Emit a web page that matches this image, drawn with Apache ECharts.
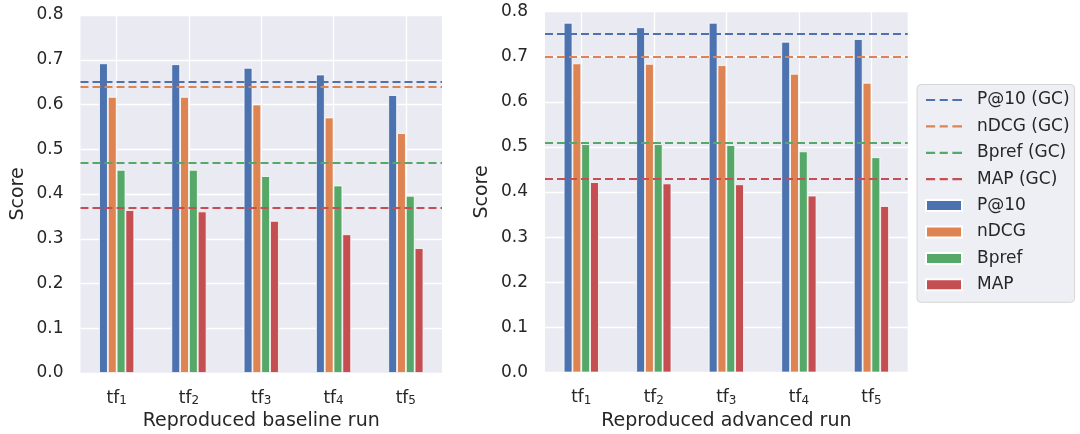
<!DOCTYPE html>
<html>
<head>
<meta charset="utf-8">
<title>Reproduced runs</title>
<script src="https://cdn.jsdelivr.net/npm/echarts@6/dist/echarts.min.js"></script>
<style>
    html, body { margin: 0; padding: 0; background: #fff; }
    #chart_runs { width: 1080px; height: 434px; }
</style>
</head>
<body>
<div id="chart_runs"></div>
<script>

// Data
// ------------------------------

var categories = ['tf_1', 'tf_2', 'tf_3', 'tf_4', 'tf_5'];
var yTicks = [0.0, 0.1, 0.2, 0.3, 0.4, 0.5, 0.6, 0.7, 0.8];

var metricNames = ['P@10', 'nDCG', 'Bpref', 'MAP'];
var gcNames = ['P@10 (GC)', 'nDCG (GC)', 'Bpref (GC)', 'MAP (GC)'];

// reproduced baseline run
var baselineP10 = [0.692, 0.690, 0.682, 0.667, 0.621];
var baselineNDCG = [0.617, 0.617, 0.600, 0.571, 0.536];
var baselineBpref = [0.454, 0.454, 0.440, 0.419, 0.396];
var baselineMAP = [0.364, 0.361, 0.340, 0.310, 0.279];
var baselineGC = [0.647, 0.638, 0.465, 0.372];

// reproduced advanced run
var advancedP10 = [0.775, 0.765, 0.775, 0.733, 0.739];
var advancedNDCG = [0.685, 0.684, 0.681, 0.662, 0.642];
var advancedBpref = [0.506, 0.506, 0.504, 0.490, 0.477];
var advancedMAP = [0.422, 0.419, 0.417, 0.392, 0.369];
var advancedGC = [0.751, 0.696, 0.512, 0.428];


// Setup module
// ------------------------------

var RunsChart = function() {

    var colors = ['#4C72B0', '#DD8452', '#55A868', '#C44E52'];
    var textColor = '#262626';
    var font = 'DejaVu Sans';
    var dash = [8, 4];

    // three short dashes, used as legend icon for the GC lines
    var dashIcon = 'path://M0,0h9v2.2h-9z M13.5,0h8v2.2h-8z M26,0h9.5v2.2h-9.5z';

    var _grid = function(left, top, width, height) {
        return {
            left: left, top: top, width: width, height: height,
            show: true,
            backgroundColor: '#EAEAF2',
            borderWidth: 0,
            containLabel: false,
            outerBoundsMode: 'none'
        };
    };

    var _xAxis = function(idx, name) {
        return {
            type: 'category',
            gridIndex: idx,
            data: categories,
            name: name,
            nameLocation: 'middle',
            nameGap: 39,
            nameTextStyle: { fontFamily: font, fontSize: 19, color: textColor },
            axisLine: { show: false },
            axisTick: { show: false, alignWithLabel: true, interval: 0 },
            splitLine: { show: true, alignWithLabel: true, interval: 0, lineStyle: { color: '#fff', width: 1.3 } },
            axisLabel: {
                interval: 0,
                margin: 12,
                formatter: function(v) {
                    var p = v.split('_');
                    return '{a|' + p[0] + '}{s|' + p[1] + '}';
                },
                rich: {
                    a: { fontFamily: font, fontSize: 17, color: textColor, lineHeight: 22, verticalAlign: 'bottom' },
                    s: { fontFamily: font, fontSize: 12, color: textColor, lineHeight: 12, verticalAlign: 'bottom' }
                }
            }
        };
    };

    var _yAxis = function(idx) {
        return {
            type: 'value',
            gridIndex: idx,
            min: yTicks[0],
            max: yTicks[yTicks.length - 1],
            interval: 0.1,
            name: 'Score',
            nameLocation: 'middle',
            nameRotate: 90,
            nameGap: 53,
            nameTextStyle: { fontFamily: font, fontSize: 19, color: textColor },
            axisLine: { show: false },
            axisTick: { show: false },
            splitLine: { lineStyle: { color: '#fff', width: 1.3 } },
            axisLabel: {
                margin: 17,
                fontFamily: font,
                fontSize: 17,
                color: textColor,
                formatter: function(v) { return v.toFixed(1); }
            }
        };
    };

    var _series = function(idx, bars, gc) {
        var out = [];
        bars.forEach(function(values, i) {
            out.push({
                name: metricNames[i],
                type: 'bar',
                xAxisIndex: idx,
                yAxisIndex: idx,
                barWidth: 8.8,
                barGap: '0%',
                itemStyle: { color: colors[i], borderColor: '#fff', borderWidth: 0.8 },
                data: values
            });
        });
        gc.forEach(function(value, i) {
            out.push({
                name: gcNames[i],
                type: 'line',
                xAxisIndex: idx,
                yAxisIndex: idx,
                z: 5,
                symbol: 'none',
                itemStyle: { color: colors[i] },
                lineStyle: { color: colors[i], width: 2.2, type: dash },
                data: [],
                markLine: {
                    silent: true,
                    symbol: 'none',
                    label: { show: false },
                    lineStyle: { color: colors[i], width: 2.2, type: dash },
                    data: [{ yAxis: value }]
                }
            });
        });
        return out;
    };

    var _chart = function() {
        if (typeof echarts == 'undefined') {
            console.warn('Warning - echarts.min.js is not loaded.');
            return;
        }

        var element = document.getElementById('chart_runs');
        if (!element) return;

        var chart = echarts.init(element, null, { renderer: 'canvas' });

        var legendData = gcNames.map(function(n) {
            return { name: n, icon: dashIcon };
        }).concat(metricNames.map(function(n) {
            return { name: n, icon: 'rect' };
        }));

        chart.setOption({
            animation: false,
            textStyle: { fontFamily: font },

            grid: [
                _grid(80.5, 15, 361.5, 358),
                _grid(545, 11.5, 362.7, 361)
            ],
            xAxis: [
                _xAxis(0, 'Reproduced baseline run'),
                _xAxis(1, 'Reproduced advanced run')
            ],
            yAxis: [_yAxis(0), _yAxis(1)],

            legend: {
                orient: 'vertical',
                left: 917,
                top: 84.5,
                padding: [7, 5, 9, 8],
                itemWidth: 36,
                itemHeight: 11,
                itemGap: 9.4,
                backgroundColor: '#EEEEF5',
                borderColor: '#D6D6D6',
                borderWidth: 1,
                borderRadius: 4,
                textStyle: {
                    fontFamily: font,
                    fontSize: 17,
                    lineHeight: 17,
                    color: textColor,
                    padding: [0, 0, 0, 10]
                },
                data: legendData
            },

            series: []
                .concat(_series(0, [baselineP10, baselineNDCG, baselineBpref, baselineMAP], baselineGC))
                .concat(_series(1, [advancedP10, advancedNDCG, advancedBpref, advancedMAP], advancedGC))
        });
    };

    return {
        init: function() {
            _chart();
        }
    };
}();


// Initialize module
// ------------------------------

document.addEventListener('DOMContentLoaded', function() {
    RunsChart.init();
});
</script>
</body>
</html>
